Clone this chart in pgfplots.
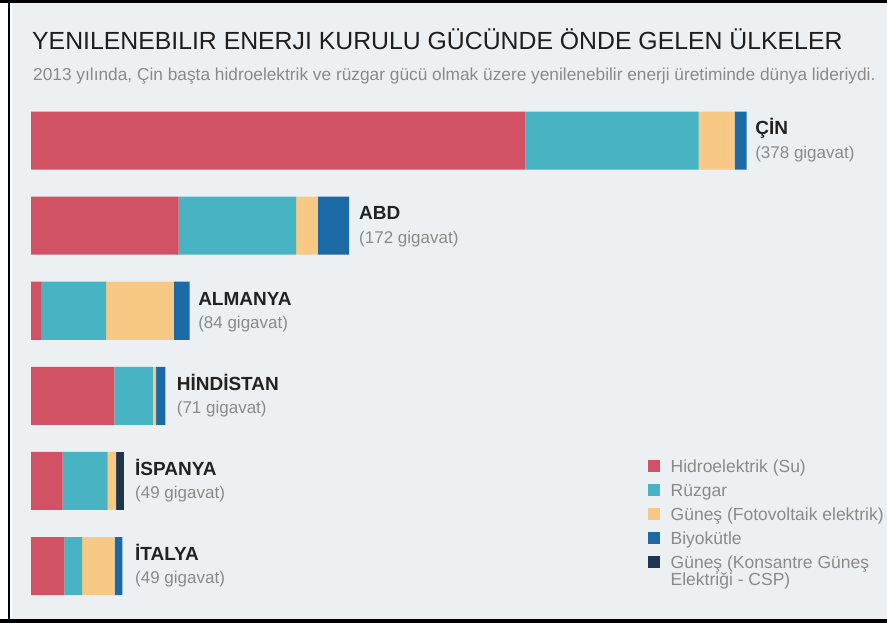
\documentclass[border=0pt]{standalone}
\usepackage{fontspec}
\setmainfont{Liberation Sans}
\usepackage{pgfplots}
\usepackage{pgfplotstable}
\pgfplotsset{compat=1.18}
\definecolor{bg}{HTML}{EDF0F2}
\definecolor{cRed}{HTML}{D05264}
\definecolor{cTeal}{HTML}{47B3C3}
\definecolor{cYel}{HTML}{F8C985}
\definecolor{cBlue}{HTML}{1B6AA5}
\definecolor{cNavy}{HTML}{1E3550}
\definecolor{titlec}{HTML}{1E1E1E}
\definecolor{subc}{HTML}{8A8A8A}
\definecolor{namec}{HTML}{222222}

\pgfplotstableread{
idx hydro wind pv bio csp
0 261 91.5 19 6.4 0
1 78 62 11.5 16.5 0
2 5.3 34.4 35.7 8.3 0
3 44 20.3 1.8 4.8 0
4 16.7 23.8 4.4 0 4
5 17.6 9.4 17.1 4.1 0
}\datatable

\newcommand{\namefont}{\fontsize{19}{21}\selectfont\bfseries}
\newcommand{\gigafont}{\fontsize{17}{19}\selectfont}

\begin{document}
\begin{tikzpicture}[x=1pt,y=1pt]
\path[use as bounding box, fill=white] (0,0) rectangle (887,623);
\fill[bg] (12,4) rectangle (887,620);
\fill[black] (8,4) rectangle (10,620);
\fill[black] (0,620) rectangle (887,623);
\fill[black] (0,0) rectangle (887,4);
\node[anchor=base west, inner sep=0pt, font=\fontsize{24.8}{26}\selectfont, text=titlec] at (32,573.5) {YENILENEBILIR ENERJI KURULU GÜCÜNDE ÖNDE GELEN ÜLKELER};
\node[anchor=base west, inner sep=0pt, font=\fontsize{17.3}{19}\selectfont, text=subc] at (33,542) {2013 yılında, Çin başta hidroelektrik ve rüzgar gücü olmak üzere yenilenebilir enerji üretiminde dünya lideriydi.};
\begin{axis}[
  at={(31pt,14.4pt)}, anchor=south west,
  scale only axis, width=852.3pt, height=510.6pt,
  xbar stacked, bar width=58pt,
  xmin=0, xmax=450, ymin=-0.5, ymax=5.5, y dir=reverse,
  hide axis,
  legend style={at={(0.7239,0.2930)}, anchor=north west, draw=none, fill=none,
    inner sep=0pt, column sep=11pt, row sep=7pt,
    font=\fontsize{17.5}{14}\selectfont, text=subc,
    cells={anchor=base west},
    nodes={inner sep=0pt, text height=13pt, text depth=4pt}},
]
\addplot[fill=cRed, draw=none, legend image code/.code={\fill[cRed] (0pt,0.5pt) rectangle (11.5pt,12pt);}] table[x=hydro, y=idx] {\datatable};
\addlegendentry{Hidroelektrik (Su)}
\addplot[fill=cTeal, draw=none, legend image code/.code={\fill[cTeal] (0pt,0.5pt) rectangle (11.5pt,12pt);}] table[x=wind, y=idx] {\datatable};
\addlegendentry{Rüzgar}
\addplot[fill=cYel, draw=none, legend image code/.code={\fill[cYel] (0pt,0.5pt) rectangle (11.5pt,12pt);}] table[x=pv, y=idx] {\datatable};
\addlegendentry{Güneş (Fotovoltaik elektrik)}
\addplot[fill=cBlue, draw=none, legend image code/.code={\fill[cBlue] (0pt,0.5pt) rectangle (11.5pt,12pt);}] table[x=bio, y=idx] {\datatable};
\addlegendentry{Biyokütle}
\addplot[fill=cNavy, draw=none, legend image code/.code={\fill[cNavy] (0pt,0.5pt) rectangle (11.5pt,12pt);}] table[x=csp, y=idx] {\datatable};
\addlegendentry{\begin{tabular}[t]{@{}l@{}}Güneş (Konsantre Güneş\\Elektriği - CSP)\end{tabular}}

\node[anchor=base west, inner sep=0pt, font=\namefont, text=namec] at ([yshift=5.7pt]axis cs:382.3,0) {ÇİN};
\node[anchor=base west, inner sep=0pt, font=\gigafont, text=subc] at ([yshift=-17.7pt]axis cs:382.3,0) {(378 gigavat)};
\node[anchor=base west, inner sep=0pt, font=\namefont, text=namec] at ([yshift=5.7pt]axis cs:173.2,1) {ABD};
\node[anchor=base west, inner sep=0pt, font=\gigafont, text=subc] at ([yshift=-17.7pt]axis cs:173.2,1) {(172 gigavat)};
\node[anchor=base west, inner sep=0pt, font=\namefont, text=namec] at ([yshift=5.7pt]axis cs:88.2,2) {ALMANYA};
\node[anchor=base west, inner sep=0pt, font=\gigafont, text=subc] at ([yshift=-17.7pt]axis cs:88.2,2) {(84 gigavat)};
\node[anchor=base west, inner sep=0pt, font=\namefont, text=namec] at ([yshift=5.7pt]axis cs:76.9,3) {HİNDİSTAN};
\node[anchor=base west, inner sep=0pt, font=\gigafont, text=subc] at ([yshift=-17.7pt]axis cs:76.9,3) {(71 gigavat)};
\node[anchor=base west, inner sep=0pt, font=\namefont, text=namec] at ([yshift=5.7pt]axis cs:54.9,4) {İSPANYA};
\node[anchor=base west, inner sep=0pt, font=\gigafont, text=subc] at ([yshift=-17.7pt]axis cs:54.9,4) {(49 gigavat)};
\node[anchor=base west, inner sep=0pt, font=\namefont, text=namec] at ([yshift=5.7pt]axis cs:54.9,5) {İTALYA};
\node[anchor=base west, inner sep=0pt, font=\gigafont, text=subc] at ([yshift=-17.7pt]axis cs:54.9,5) {(49 gigavat)};
\end{axis}
\end{tikzpicture}
\end{document}
